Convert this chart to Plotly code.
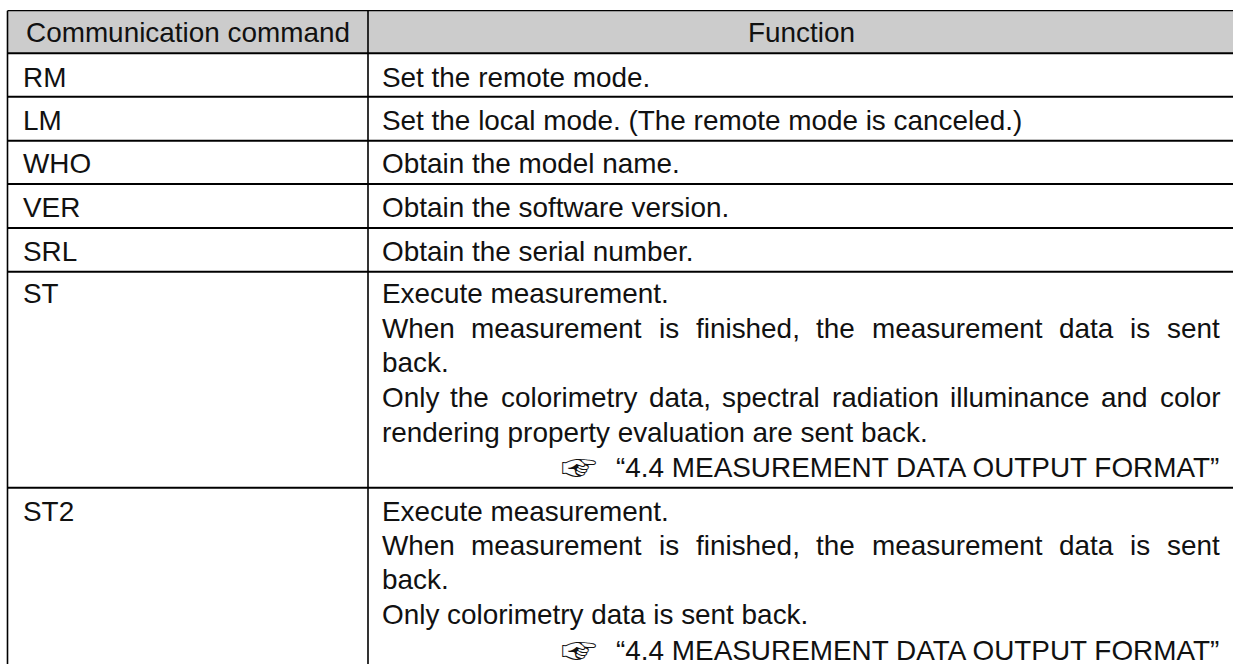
import plotly.graph_objects as go

# ---- content ----
header = ["Communication command", "Function"]
commands = ["RM", "LM", "WHO", "VER", "SRL", "ST", "ST2"]
short_functions = [
    "Set the remote mode.",
    "Set the local mode. (The remote mode is canceled.)",
    "Obtain the model name.",
    "Obtain the software version.",
    "Obtain the serial number.",
]
st_lines = [
    ("Execute measurement.", False),
    ("When measurement is finished, the measurement data is sent", True),
    ("back.", False),
    ("Only the colorimetry data, spectral radiation illuminance and color", True),
    ("rendering property evaluation are sent back.", False),
]
st2_lines = [
    ("Execute measurement.", False),
    ("When measurement is finished, the measurement data is sent", True),
    ("back.", False),
    ("Only colorimetry data is sent back.", False),
]
reference_text = "“4.4 MEASUREMENT DATA OUTPUT FORMAT”"
hand = "☞"

# ---- layout constants (pixels of the page) ----
W, H = 1233, 664
LEFT, COL = 7.5, 368
TOP = 10.7
RULES = [53.3, 96.7, 140.7, 184, 228, 271.7, 487.7]
CMD_X, FN_X, FN_RIGHT = 22.5, 381.5, 1220
FS = 27.9
INK = "#111111"
CMD_BASE = [87, 130, 173, 216.7, 260.7, 303, 520.7]
HEAD_BASE = 42
ST_BASE = [303, 338, 372, 407, 442]
ST_REF_BASE = 477
ST2_BASE = [520.7, 555, 589, 624]
ST2_REF_BASE = 660

CHAR_W = dict(a=.556, b=.556, c=.5, d=.556, e=.556, f=.278, g=.556, h=.556, i=.222, j=.222,
              k=.5, l=.222, m=.833, n=.556, o=.556, p=.556, q=.556, r=.333, s=.5, t=.278,
              u=.556, v=.5, w=.722, x=.5, y=.5, z=.5, W=.944, O=.778)
CHAR_W.update({",": .278, ".": .278})


def word_w(w):
    return sum(CHAR_W.get(c, .556) for c in w) * FS


fig = go.Figure()
fig.update_xaxes(range=[0, W], visible=False, fixedrange=True)
fig.update_yaxes(range=[H, 0], visible=False, fixedrange=True)


def put(text, x, base, anchor="left", font="Liberation Sans", size=FS):
    # annotation box is centred on y; baseline sits about 0.345 em under the centre
    fig.add_annotation(x=x, y=base - 0.345 * size, text=text, showarrow=False, xanchor=anchor,
                       yanchor="middle", borderpad=0, borderwidth=0,
                       font=dict(family=font, size=size, color=INK))


def put_line(text, justified, base):
    if not justified:
        put(text, FN_X, base)
        return
    words = text.split(" ")
    total = sum(word_w(w) for w in words)
    gap = (FN_RIGHT - FN_X - total) / (len(words) - 1)
    x = FN_X
    for w in words:
        put(w, x, base)
        x += word_w(w) + gap


# header band and rules
fig.add_shape(type="rect", x0=LEFT, x1=W, y0=TOP, y1=RULES[0], fillcolor="#cccccc", line_width=0, layer="below")
fig.add_shape(type="line", x0=LEFT, x1=W, y0=TOP, y1=TOP, line=dict(color="black", width=1.2))
for y in RULES:
    fig.add_shape(type="line", x0=LEFT, x1=W, y0=y, y1=y, line=dict(color="black", width=2))
fig.add_shape(type="line", x0=LEFT, x1=LEFT, y0=TOP, y1=H, line=dict(color="black", width=1.6))
fig.add_shape(type="line", x0=COL, x1=COL, y0=TOP, y1=H, line=dict(color="black", width=1.6))

# text
put(header[0], 26, HEAD_BASE)
put(header[1], 801, HEAD_BASE, anchor="center")
for c, b in zip(commands, CMD_BASE):
    put(c, CMD_X, b)
for t, b in zip(short_functions, CMD_BASE):
    put(t, FN_X, b)
for (t, j), b in zip(st_lines, ST_BASE):
    put_line(t, j, b)
for (t, j), b in zip(st2_lines, ST2_BASE):
    put_line(t, j, b)
for b in (ST_REF_BASE, ST2_REF_BASE):
    put(reference_text, 1219, b, anchor="right")
    put(hand, 579, b, anchor="center", font="Noto Sans CJK JP", size=36)

fig.update_layout(width=W, height=H, margin=dict(l=0, r=0, t=0, b=0), paper_bgcolor="white",
                  plot_bgcolor="white", showlegend=False)
fig.write_html("out.html", config=dict(displayModeBar=False),
               post_script="document.body.style.margin='0';document.documentElement.style.overflow='hidden';")
